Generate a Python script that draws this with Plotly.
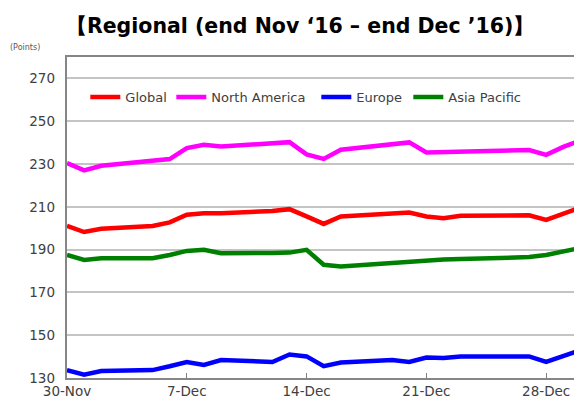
import plotly.graph_objects as go

dates = ["2016-11-30", "2016-12-01", "2016-12-02", "2016-12-05", "2016-12-06", "2016-12-07",
         "2016-12-08", "2016-12-09", "2016-12-12", "2016-12-13", "2016-12-14", "2016-12-15",
         "2016-12-16", "2016-12-19", "2016-12-20", "2016-12-21", "2016-12-22", "2016-12-23",
         "2016-12-26", "2016-12-27", "2016-12-28", "2016-12-29", "2016-12-30"]

global_vals = [201.1, 198.2, 199.7, 201.0, 202.7, 206.3, 207.0, 207.0, 208.0, 208.9, 205.5, 202.0,
               205.5, 206.8, 207.3, 205.5, 204.7, 205.8, 205.9, 206.0, 203.9, 206.5, 209.6]
north_america = [230.4, 227.0, 229.2, 231.5, 232.3, 237.4, 239.0, 238.2, 239.5, 240.2, 234.5, 232.4,
                 236.7, 239.3, 240.1, 235.4, 235.5, 235.8, 236.0, 236.5, 234.3, 238.0, 241.0]
europe = [133.7, 131.5, 133.3, 133.7, 135.5, 137.5, 136.1, 138.4, 137.5, 141.0, 140.1, 135.5,
          137.2, 138.4, 137.5, 139.6, 139.3, 140.1, 140.1, 140.1, 137.5, 140.5, 143.0]
asia_pacific = [187.5, 185.2, 186.0, 186.0, 187.5, 189.4, 189.9, 188.3, 188.4, 188.6, 189.9, 182.9,
                182.1, 183.9, 184.5, 185.2, 185.4, 185.6, 186.0, 186.5, 187.5, 189.0, 190.8]

series_names = ["Global", "North America", "Europe", "Asia Pacific"]
series_colors = ["#FF0000", "#FF00FF", "#0000FF", "#008000"]
series_values = [global_vals, north_america, europe, asia_pacific]
legend_widths = [41, 100, 47, 80]

x_tickvals = ["2016-11-30", "2016-12-07", "2016-12-14", "2016-12-21", "2016-12-28"]
x_ticktext = ["30-Nov", "7-Dec", "14-Dec", "21-Dec", "28-Dec"]
y_tickvals = [130, 150, 170, 190, 210, 230, 250, 270]
y_range = [130, 280]

fig = go.Figure()
for name, color, vals, lw in zip(series_names, series_colors, series_values, legend_widths):
    fig.add_trace(go.Scatter(x=dates, y=vals, name=name, mode="lines",
                             legendwidth=lw,
                             line=dict(color=color, width=4.5)))
# empty trace only to carry the tick-label axis
fig.add_trace(go.Scatter(x=[], y=[], yaxis="y2", showlegend=False, hoverinfo="skip"))

font_main = "DejaVu Sans"
fig.update_layout(
    width=574, height=403,
    margin=dict(l=55, r=0, t=57, b=25),
    paper_bgcolor="white", plot_bgcolor="white",
    title=dict(text="<b>【Regional (end Nov ‘16 – end Dec ’16)】</b>",
               x=0.523, xanchor="center", y=0.937, yanchor="middle",
               font=dict(family=font_main, size=20.5, color="black")),
    legend=dict(orientation="h", x=0.0584, xanchor="left", y=0.875, yanchor="middle",
                font=dict(family=font_main, size=13, color="#404040"),
                bgcolor="rgba(0,0,0,0)"),
    showlegend=True,
    xaxis=dict(type="date", domain=[12 / 519, 1], range=["2016-11-30", "2016-12-29 15:00"],
               tickvals=x_tickvals, ticktext=x_ticktext,
               ticks="inside", ticklen=5, tickcolor="#808080", tickwidth=1,
               showline=True, linecolor="#868686", linewidth=1.5, mirror=True,
               showgrid=False, zeroline=False,
               tickfont=dict(family=font_main, size=13.5, color="#404040")),
    yaxis=dict(range=y_range, tickvals=y_tickvals, showticklabels=False,
               showline=True, linecolor="#868686", linewidth=1.5,
               showgrid=True, gridcolor="#C4C4C4", gridwidth=2, zeroline=False,
               ticks=""),
    yaxis2=dict(range=y_range, tickvals=y_tickvals, overlaying="y", anchor="free",
                position=0, side="left", showline=False, showgrid=False, zeroline=False,
                ticks="", tickfont=dict(family=font_main, size=13.5, color="#404040")),
)
fig.add_annotation(text="(Points)", xref="paper", yref="paper", x=-0.0906, y=1.031,
                   xanchor="left", yanchor="middle", showarrow=False,
                   font=dict(family=font_main, size=8, color="#595959"))

fig.write_html("out.html")
